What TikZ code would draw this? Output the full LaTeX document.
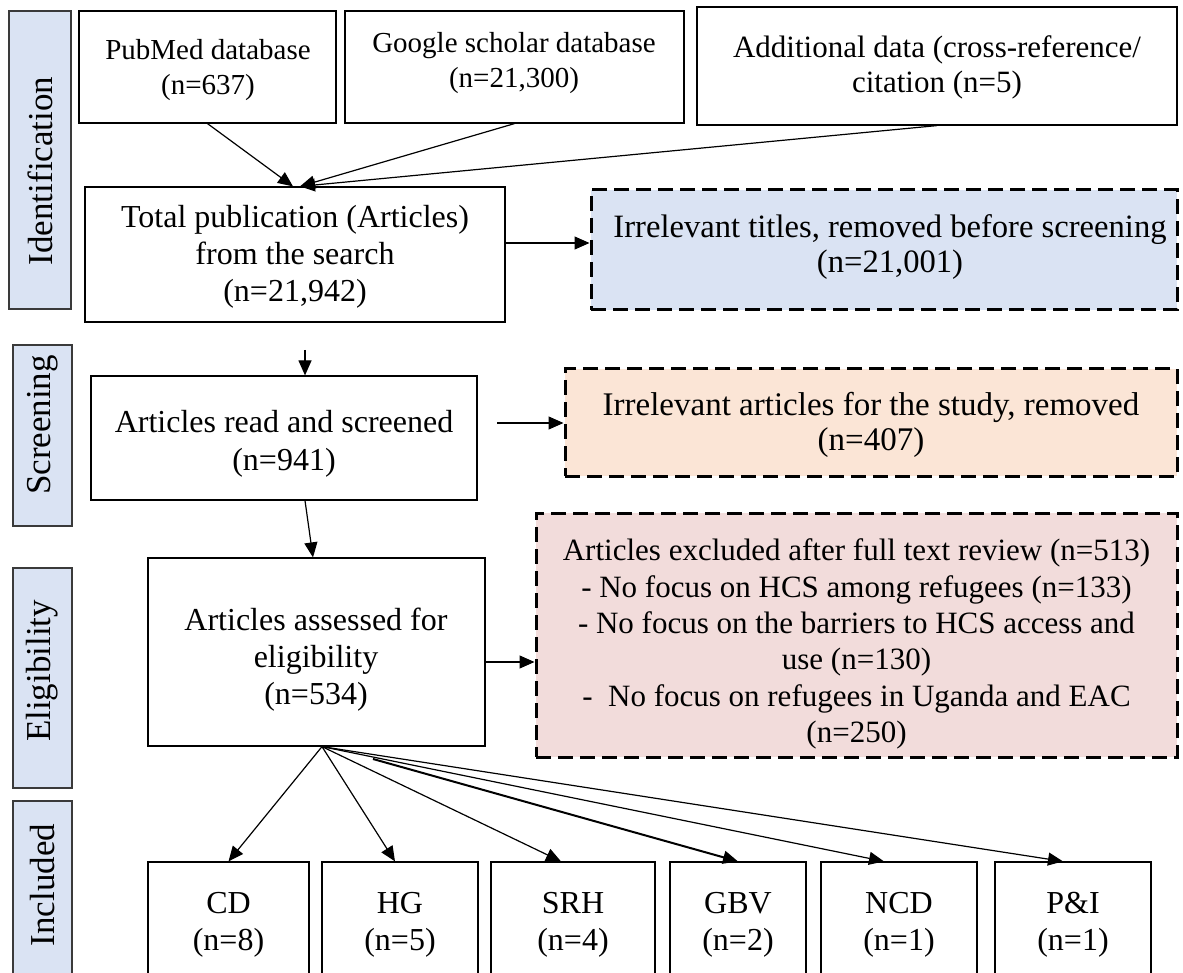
\documentclass[tikz,border=0pt]{standalone}
\usepackage{fontspec}
\setmainfont{Liberation Serif}
\usetikzlibrary{arrows.meta}
\definecolor{stagefill}{HTML}{DAE3F3}
\definecolor{stageline}{HTML}{3A3A3A}
\definecolor{bluefill}{HTML}{DAE3F3}
\definecolor{orangefill}{HTML}{FBE5D6}
\definecolor{pinkfill}{HTML}{F2DCDB}
\tikzset{
  stagebox/.style={draw=stageline, line width=1.6pt, fill=stagefill, inner sep=0pt},
  stagetext/.style={rotate=90, inner sep=0pt, font=\fontsize{35}{40}\selectfont},
  plainbox/.style={draw=black, line width=1.2pt, fill=white, inner sep=0pt},
  dashbox/.style={draw=black, line width=3pt, dash pattern=on 15pt off 7pt, inner sep=0pt},
  boxtext/.style={align=center, inner sep=0pt},
  arr/.style={draw=black, line width=1.2pt, -{Triangle[length=15pt,width=13pt]}},
}
\begin{document}
\begin{tikzpicture}[x=1pt,y=-1pt]
\clip (0,0) rectangle (1183,973);
\fill[white] (0,0) rectangle (1183,973);

% stage bars on the left
\node[stagebox, minimum width=62pt, minimum height=298pt] (sident) at (40,160) {};
\node[stagebox, minimum width=59pt, minimum height=181pt] (sscreen) at (42.5,435.5) {};
\node[stagebox, minimum width=59pt, minimum height=220pt] (selig) at (42.5,678) {};
\node[stagebox, minimum width=59pt, minimum height=200pt] (sincl) at (42.5,901) {};
\node[stagetext] (tident) at (40,171) {Identification};
\node[stagetext] (tscreen) at (42.5,425) {Screening};
\node[stagetext] (telig) at (42.5,671) {Eligibility};
\node[stagetext] (tincl) at (42.5,885) {Included};

% sources
\node[plainbox, minimum width=257pt, minimum height=112pt] (pubmed) at (207.5,67) {};
\node[plainbox, minimum width=339pt, minimum height=112pt] (google) at (514.5,67) {};
\node[plainbox, minimum width=480pt, minimum height=118pt] (addl) at (937,66) {};
\node[boxtext, font=\fontsize{29}{35}\selectfont] (pubmedtxt) at (208,70) {PubMed database\\(n=637)};
\node[boxtext, font=\fontsize{29}{35}\selectfont] (googletxt) at (514,63) {Google scholar database\\(n=21,300)};
\node[boxtext, font=\fontsize{31}{35}\selectfont] (addltxt) at (937,67) {Additional data (cross-reference/\\citation (n=5)};

% main flow
\node[plainbox, minimum width=420pt, minimum height=135pt] (total) at (295,254.5) {};
\node[boxtext, font=\fontsize{32}{37}\selectfont] (totaltxt) at (295,257) {Total publication (Articles)\\from the search\\(n=21,942)};

\node[plainbox, minimum width=386pt, minimum height=124pt] (read) at (284,438) {};
\node[boxtext, font=\fontsize{32}{38}\selectfont] (readtxt) at (284,444) {Articles read and screened\\(n=941)};

\node[plainbox, minimum width=337pt, minimum height=188pt] (elig) at (316.5,652) {};
\node[boxtext, font=\fontsize{32}{37}\selectfont] (eligtxt) at (316,660) {Articles assessed for\\eligibility\\(n=534)};

% exclusions
\node[dashbox, fill=bluefill, minimum width=586pt, minimum height=120pt] (blue) at (884,250) {};
\node[boxtext, font=\fontsize{32.6}{34.5}\selectfont] (bluetxt) at (890,247) {Irrelevant titles, removed before screening\\(n=21,001)};

\node[dashbox, fill=orangefill, minimum width=612pt, minimum height=107pt] (orange) at (871,422.5) {};
\node[boxtext, font=\fontsize{33}{35}\selectfont] (orangetxt) at (871,425) {Irrelevant articles for the study, removed\\(n=407)};

\node[dashbox, fill=pinkfill, minimum width=641pt, minimum height=244pt] (pink) at (856.5,635) {};
\node[boxtext, font=\fontsize{31}{36.4}\selectfont] (pinktxt) at (856.5,644) {Articles excluded after full text review (n=513)\\- No focus on HCS among refugees (n=133)\\- No focus on the barriers to HCS access and\\use (n=130)\\-\ \ No focus on refugees in Uganda and EAC\\(n=250)};

% included categories
\node[plainbox, minimum width=161pt, minimum height=138pt] (cd) at (228.5,931) {};
\node[plainbox, minimum width=156pt, minimum height=138pt] (hg) at (400,931) {};
\node[plainbox, minimum width=164pt, minimum height=138pt] (srh) at (573,931) {};
\node[plainbox, minimum width=136pt, minimum height=138pt] (gbv) at (738,931) {};
\node[plainbox, minimum width=156pt, minimum height=138pt] (ncd) at (899,931) {};
\node[plainbox, minimum width=156pt, minimum height=138pt] (pi) at (1073,931) {};
\node[boxtext, font=\fontsize{32}{37}\selectfont] (cdtxt) at (228.5,925) {CD\\(n=8)};
\node[boxtext, font=\fontsize{32}{37}\selectfont] (hgtxt) at (400,925) {HG\\(n=5)};
\node[boxtext, font=\fontsize{32}{37}\selectfont] (srhtxt) at (573,925) {SRH\\(n=4)};
\node[boxtext, font=\fontsize{32}{37}\selectfont] (gbvtxt) at (738,925) {GBV\\(n=2)};
\node[boxtext, font=\fontsize{32}{37}\selectfont] (ncdtxt) at (899,925) {NCD\\(n=1)};
\node[boxtext, font=\fontsize{32}{37}\selectfont] (pitxt) at (1073,925) {P\&I\\(n=1)};

% connectors
\draw[arr] (pubmed.south) -- ([xshift=-2pt]total.north);
\draw[arr] (google.south) -- ([xshift=5pt]total.north);
\draw[arr] (addl.south) -- ([xshift=5pt]total.north);
\coordinate (tright) at (505,243);
\draw[arr] (tright) -- (tright -| blue.west);

\coordinate (tdown) at (305,350);
\draw[arr] (tdown) -- (tdown |- read.north);
\coordinate (rright) at (497,423);
\draw[arr] (rright) -- (rright -| orange.west);
\draw[arr] ([xshift=21pt]read.south) -- ([xshift=-3.5pt]elig.north);
\draw[arr] ([yshift=-10pt]elig.east) -- ([yshift=-10pt]elig.east -| pink.west);

\coordinate (fan) at ([xshift=5.5pt]elig.south);
\coordinate (gbvstart) at (373,759);
\draw[arr] (fan) -- (cd.north);
\draw[arr] (fan) -- ([xshift=-5pt]hg.north);
\draw[arr] (fan) -- ([xshift=-12pt]srh.north);
\draw[arr, line width=2pt] (gbvstart) -- (gbv.north);
\draw[arr] (fan) -- ([xshift=-15pt]ncd.north);
\draw[arr] (fan) -- ([xshift=-10pt]pi.north);
\end{tikzpicture}
\end{document}
